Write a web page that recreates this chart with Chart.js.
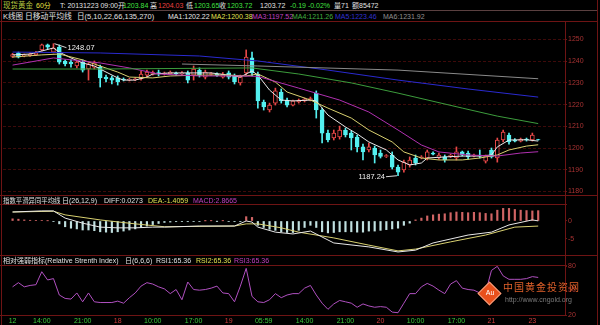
<!DOCTYPE html>
<html>
<head>
<meta charset="utf-8">
<script src="https://cdn.jsdelivr.net/npm/chart.js"></script>
<style>
  body { margin: 0; background: #000; }
  #wrap { position: relative; width: 600px; height: 325px; overflow: hidden; background: #000; }
  .t { position: absolute; white-space: nowrap; font: 7px/9px "Liberation Sans", "Noto Sans CJK SC", sans-serif; color: #e0e0e0; }
  .h { position: absolute; height: 1px; background: #6e1414; }
  .v { position: absolute; width: 1px; background: #6e1414; }
  canvas { position: absolute; left: 0; }
</style>
</head>
<body>
<div id="wrap">
  <canvas id="mainChart" width="600" height="174" style="top:22px"></canvas>
  <canvas id="macdChart" width="600" height="48" style="top:205px"></canvas>
  <canvas id="rsiChart" width="600" height="63" style="top:262px"></canvas>

  <div class="h" style="left:0;top:10px;width:598px;background:#5a4040"></div>
  <div class="h" style="left:0;top:21px;width:598px"></div>
  <div class="h" style="left:0;top:195px;width:598px"></div>
  <div class="h" style="left:0;top:204px;width:567px"></div>
  <div class="h" style="left:0;top:255px;width:598px"></div>
  <div class="h" style="left:0;top:265px;width:567px"></div>
  <div class="h" style="left:0;top:315px;width:567px"></div>
  <div class="v" style="left:1px;top:0;height:325px"></div>
  <div class="v" style="left:597px;top:0;height:325px"></div>
  <div class="v" style="left:565px;top:21px;height:295px"></div>

  <span class="t" style="left:3px;top:0.5px;color:#b8c840;font-size:7.5px">现货黄金</span>
  <span class="t" style="left:36px;top:0.5px;color:#e8e040">60分</span>
  <span class="t" style="left:60px;top:0.5px">T: 20131223 09:00开</span>
  <span class="t" style="left:123px;top:0.5px;color:#40e040">1203.84</span>
  <span class="t" style="left:150px;top:0.5px">高</span>
  <span class="t" style="left:158px;top:0.5px;color:#e84040">1204.03</span>
  <span class="t" style="left:186px;top:0.5px">低</span>
  <span class="t" style="left:194px;top:0.5px;color:#40e040">1203.65</span>
  <span class="t" style="left:219px;top:0.5px">收</span>
  <span class="t" style="left:227px;top:0.5px;color:#40e040">1203.72</span>
  <span class="t" style="left:260px;top:0.5px">1203.72</span>
  <span class="t" style="left:290px;top:0.5px;color:#40e040">-0.19 -0.02%</span>
  <span class="t" style="left:334px;top:0.5px">量71</span>
  <span class="t" style="left:352px;top:0.5px">额85472</span>

  <span class="t" style="left:3px;top:11.5px;font-size:7.5px">K线图</span>
  <span class="t" style="left:25px;top:11.5px;font-size:7.8px">日移动平均线</span>
  <span class="t" style="left:77px;top:11.5px;font-size:7.5px">日(5,10,22,66,135,270)</span>
  <span class="t" style="left:168px;top:11.5px;color:#e8e8e8">MA1:1202.22</span>
  <span class="t" style="left:211px;top:11.5px;color:#e0e050">MA2:1200.38</span>
  <span class="t" style="left:252px;top:11.5px;color:#c040c0">MA3:1197.52</span>
  <span class="t" style="left:292px;top:11.5px;color:#40b040">MA4:1211.26</span>
  <span class="t" style="left:335px;top:11.5px;color:#3030d0">MA5:1223.46</span>
  <span class="t" style="left:383px;top:11.5px;color:#909090">MA6:1231.92</span>

  <span class="t" style="left:3px;top:195.5px;font-size:6.4px">指数平滑异同平均线</span>
  <span class="t" style="left:62px;top:195.5px">日(26,12,9)</span>
  <span class="t" style="left:104px;top:195.5px">DIFF:0.0273</span>
  <span class="t" style="left:148px;top:195.5px;color:#e0e050">DEA:-1.4059</span>
  <span class="t" style="left:193px;top:195.5px;color:#c040c0">MACD:2.8665</span>

  <span class="t" style="left:3px;top:255.5px">相对强弱指标(Relative Strenth Index)</span>
  <span class="t" style="left:125px;top:255.5px">日(6,6,6)</span>
  <span class="t" style="left:156px;top:255.5px">RSI1:65.36</span>
  <span class="t" style="left:196px;top:255.5px;color:#e0e050">RSI2:65.36</span>
  <span class="t" style="left:234px;top:255.5px;color:#c040c0">RSI3:65.36</span>

  <div style="position:absolute;left:481px;top:285px;width:15px;height:15px;background:#e8501c;transform:rotate(45deg);border:1px solid #f0a080"></div>
  <span class="t" style="left:482px;top:288px;font-size:7px;color:#fff;width:16px;text-align:center">Au</span>
  <span class="t" style="left:503px;top:282px;font-size:10px;line-height:12px;color:#e0602a;letter-spacing:1px">中国黄金投资网</span>
  <span class="t" style="left:505px;top:295px;font-size:7px;color:#7a7a7a">http://www.cngold.org</span>
</div>

<script>
// 60 minute candles, index 0..90
const opens = [1242.2,1243.8,1242.4,1242.6,1242.9,1245.2,1247.6,1244.2,1246.5,1240.1,
  1239.6,1237.8,1239.6,1236.4,1237.3,1237.3,1232.7,1232.3,1232.3,1231.8,
  1231.3,1231.5,1231.8,1233.6,1234.1,1234.8,1234.1,1234.3,1234.5,1234.1,
  1234.6,1233.6,1235.9,1232.7,1233.9,1234.1,1232.7,1234.6,1233.2,1230.0,
  1234.6,1241.5,1234.1,1221.2,1217.5,1220.7,1225.8,1222.1,1219.8,1221.2,
  1221.7,1222.1,1225.3,1217.5,1206.9,1204.6,1205.1,1208.3,1206.9,1205.1,
  1200.5,1199.1,1200.0,1197.7,1196.1,1196.8,1191.2,1189.9,1192.2,1195.4,
  1195.6,1195.4,1197.7,1195.4,1195.9,1196.1,1195.4,1198.2,1197.7,1196.3,
  1196.8,1194.0,1199.1,1195.4,1203.7,1206.0,1203.7,1203.2,1204.1,1203.7,
  1203.84];
const highs = [1243.6,1244.2,1243.3,1243.8,1244.5,1247.9,1247.9,1248.07,1247.5,1240.6,
  1240.6,1240.6,1240.6,1239.2,1240.1,1238.2,1233.6,1233.2,1233.2,1232.3,
  1232.1,1232.4,1235.5,1235.9,1235.5,1235.9,1235.0,1235.5,1235.0,1235.2,
  1235.5,1237.8,1236.9,1235.9,1234.8,1234.6,1234.8,1235.5,1234.1,1233.6,
  1245.2,1244.2,1235.0,1222.1,1220.7,1227.6,1227.2,1223.0,1222.1,1222.6,
  1223.0,1223.5,1226.3,1218.4,1208.3,1208.3,1210.1,1209.2,1207.8,1206.0,
  1201.8,1202.3,1200.9,1199.1,1197.0,1198.2,1192.2,1194.5,1195.9,1196.8,
  1196.5,1199.1,1198.2,1197.7,1196.8,1197.2,1200.5,1198.6,1198.6,1197.2,
  1199.1,1196.8,1200.0,1204.6,1208.3,1206.9,1204.4,1204.6,1204.6,1206.9,
  1204.03];
const lows = [1241.7,1241.5,1242.0,1242.2,1242.5,1244.7,1245.6,1243.8,1238.7,1237.8,
  1237.3,1236.9,1235.0,1231.3,1236.4,1228.1,1230.4,1229.5,1229.0,1230.9,
  1230.9,1231.0,1231.3,1232.7,1233.6,1233.2,1233.6,1233.9,1233.6,1233.6,
  1230.0,1231.3,1232.7,1231.8,1233.4,1233.0,1232.2,1231.8,1229.5,1229.0,
  1233.6,1233.2,1218.4,1217.5,1216.6,1219.8,1220.7,1218.9,1219.4,1220.7,
  1221.2,1221.7,1213.8,1202.3,1202.8,1203.7,1204.1,1205.1,1199.1,1198.2,
  1194.5,1198.2,1193.1,1195.4,1195.6,1190.3,1187.24,1188.9,1191.2,1192.2,
  1195.0,1194.5,1196.8,1194.9,1193.5,1195.6,1194.5,1196.3,1194.9,1195.9,
  1195.4,1193.1,1195.4,1193.5,1202.8,1201.8,1202.8,1202.8,1203.2,1203.2,
  1203.65];
const closes = [1243.1,1241.9,1242.9,1243.3,1243.8,1247.6,1246.5,1246.1,1239.6,1238.7,
  1238.7,1239.6,1235.9,1238.7,1239.2,1232.3,1231.8,1231.3,1230.4,1231.4,
  1231.7,1231.9,1234.1,1235.0,1234.8,1234.1,1234.5,1235.0,1234.1,1234.5,
  1231.3,1236.4,1233.6,1235.0,1234.3,1233.5,1234.1,1232.7,1230.4,1232.7,
  1241.9,1234.6,1221.7,1218.9,1219.8,1226.3,1221.7,1219.8,1221.7,1222.1,
  1222.6,1222.8,1217.5,1206.9,1203.7,1206.9,1208.3,1206.0,1204.6,1200.5,
  1198.2,1200.5,1196.8,1196.1,1196.5,1191.2,1188.9,1193.5,1194.5,1193.1,
  1196.0,1198.2,1197.2,1196.8,1194.5,1196.6,1198.2,1196.8,1195.9,1196.7,
  1196.3,1196.3,1195.9,1203.7,1207.4,1202.8,1203.2,1204.1,1203.7,1206.0,
  1203.72];

// moving averages as [candle index, value]
const ma1 = [[0,1242.9],[3,1243.3],[5,1244.7],[7,1246.1],[8,1244.2],[10,1241.5],[12,1239.2],[14,1237.8],
  [16,1235.0],[18,1232.3],[19,1231.3],[21,1231.3],[23,1232.7],[24,1234.1],[27,1234.6],[30,1234.6],
  [34,1234.6],[37,1233.6],[39,1232.7],[41,1235.5],[42,1233.6],[44,1226.7],[46,1222.1],[48,1221.7],
  [51,1222.1],[52,1221.7],[54,1215.2],[57,1209.7],[59,1206.5],[61,1202.8],[64,1199.1],[66,1194.5],
  [68,1192.2],[70,1193.1],[71,1195.4],[74,1195.9],[77,1196.3],[80,1196.3],[82,1196.8],[83,1200.5],
  [85,1203.7],[88,1203.8],[90,1203.2]];
const ma2 = [[0,1241.9],[5,1242.9],[8,1243.3],[12,1240.6],[14,1238.7],[18,1235.0],[20,1232.7],[24,1232.3],
  [27,1233.2],[32,1233.6],[37,1233.6],[40,1233.2],[42,1234.1],[45,1230.4],[47,1225.8],[51,1222.1],
  [54,1218.4],[58,1213.8],[61,1208.3],[65,1202.8],[67,1198.2],[70,1195.4],[73,1194.5],[77,1194.5],
  [80,1195.4],[83,1196.8],[85,1199.1],[88,1200.9],[90,1201.5]];
const ma3 = [[0,1238.2],[7,1241.5],[15,1239.2],[20,1236.9],[25,1234.1],[32,1233.2],[39,1233.2],[42,1233.0],
  [49,1227.6],[56,1222.1],[61,1216.6],[66,1208.3],[70,1201.4],[73,1198.2],[78,1196.8],[83,1196.3],
  [87,1197.7],[90,1198.3]];
const ma4 = [[0,1236.4],[15,1236.4],[41,1236.9],[49,1234.1],[58,1230.0],[66,1225.3],[77,1218.4],[83,1214.7],[90,1211.26]];
const ma5 = [[0,1244.2],[15,1243.8],[32,1242.4],[42,1240.1],[54,1235.9],[66,1231.3],[78,1227.2],[90,1223.46]];
const ma6 = [[29,1238.7],[42,1237.8],[66,1235.9],[90,1231.92]];

// MACD
const macdHist = [0.6,0.5,0.3,0.2,0.1,0.1,0.05,-0.1,-0.8,-1.6,
  -2.0,-2.2,-2.5,-2.5,-2.7,-3.0,-3.1,-3.2,-3.0,-2.8,
  -2.5,-2.2,-1.8,-1.4,-1.0,-0.7,-0.4,-0.3,-0.2,-0.1,
  -0.2,-0.1,-0.1,0.02,0.05,-0.05,0.05,-0.1,-0.2,-0.2,
  1.2,1.0,-1.2,-1.8,-2.3,-2.6,-3.0,-3.2,-3.2,-2.6,
  -1.8,-1.2,-1.8,-3.0,-3.3,-3.2,-3.0,-3.0,-3.0,-3.1,
  -3.1,-2.8,-2.8,-2.6,-2.4,-2.2,-2.0,-1.2,-0.6,0.3,
  0.8,1.4,1.7,1.9,2.0,2.3,2.5,2.4,2.3,2.4,
  2.3,2.1,2.0,3.0,3.5,3.5,3.2,3.0,2.9,2.8,
  2.87];
const diff = [[0,2.5],[5,2.8],[7,2.8],[9,0.8],[12,-0.6],[15,-1.7],[18,-1.9],[21,-1.9],[24,-1.7],[26,-1.7],
  [32,-1.4],[38,-1.4],[40,0.0],[41,-0.3],[42,-1.7],[45,-3.1],[48,-3.6],[51,-2.8],[55,-6.1],[61,-7.2],
  [66,-8.6],[69,-8.1],[72,-6.1],[78,-3.9],[82,-3.1],[85,-1.1],[89,0.3],[90,0.03]];
const dea = [[0,2.5],[7,2.7],[9,1.7],[15,0.3],[21,-0.8],[26,-1.6],[38,-1.4],[40,-0.8],[42,-0.8],[46,-1.9],
  [49,-3.1],[55,-4.7],[61,-6.7],[66,-8.3],[69,-7.8],[75,-5.8],[81,-3.9],[86,-1.7],[90,-1.41]];

// RSI(6)
const rsi = [54.5,59.6,54.5,56.2,57.1,73.0,62.9,64.6,44.5,40.3,
  39.5,47.0,36.2,47.0,36.2,35.3,35.3,35.3,37.0,34.5,
  41.2,47.0,55.4,59.6,57.9,54.5,52.0,46.2,51.2,38.7,
  60.4,51.2,50.4,51.2,52.9,55.4,47.0,46.2,36.2,55.4,
  77.1,42.8,36.2,35.3,38.7,46.2,41.2,44.5,46.2,46.2,
  52.9,56.2,44.5,34.5,27.0,33.6,37.8,36.2,34.5,29.5,
  33.6,31.1,29.5,30.3,29.5,23.6,22.8,34.5,46.2,46.2,
  54.5,58.7,55.4,50.4,46.2,57.9,62.1,52.9,51.2,50.4,
  47.0,47.9,74.6,79.6,67.9,63.7,63.7,63.7,64.6,67.0,
  66.0];

// bottom time axis
const timeTicks = [0, 5, 12, 18, 24, 31, 37, 43, 50, 57, 63, 69, 76, 82, 89];
const timeLabels = ['12', '14:00', '21:00', '18', '10:00', '17:00', '19', '05:59', '14:00', '21:00', '20', '10:00', '17:00', '21', '23'];

const mainTicks = [1180, 1190, 1200, 1210, 1220, 1230, 1240, 1250];
const macdTicks = [0, -5];
const rsiTicks = [80, 50, 20];

Chart.defaults.font.family = '"Liberation Sans", "Noto Sans CJK SC", sans-serif';
Chart.defaults.animation = false;

const RED = '#e84848';
const CYAN = '#54f0f0';
const FRAME = '#6e1414';

function xAxis() {
    return { type: 'linear', min: -1.64, max: 94.59, offset: false, display: false };
}

function rightAxis(min, max, ticks, gridOn) {
    return {
        position: 'right',
        min: min,
        max: max,
        afterFit: function (s) { s.width = 35; s.paddingTop = 0; s.paddingBottom = 0; },
        afterBuildTicks: function (s) { s.ticks = ticks.map(function (v) { return { value: v }; }); },
        grid: { color: '#3e0a0a', drawOnChartArea: gridOn, drawTicks: true, tickLength: 2, tickColor: FRAME },
        border: { display: false, dash: [3, 2] },
        ticks: { color: '#a83232', font: { size: 7 }, padding: 1, callback: function (v) { return String(v); } }
    };
}

function pairs(arr) {
    return arr.map(function (p) { return { x: p[0], y: p[1] }; });
}

function maLine(arr, color) {
    return { type: 'line', data: pairs(arr), borderColor: color, borderWidth: 1, pointRadius: 0, tension: 0, order: 0 };
}

const isUp = opens.map(function (o, i) { return closes[i] >= o; });

const extremeLabels = {
    id: 'extremeLabels',
    afterDatasetsDraw: function (chart) {
        const ctx = chart.ctx, x = chart.scales.x, y = chart.scales.y;
        const hi = highs.indexOf(Math.max.apply(null, highs));
        const lo = lows.indexOf(Math.min.apply(null, lows));
        ctx.save();
        ctx.strokeStyle = '#d8d8d8';
        ctx.fillStyle = '#f0f0f0';
        ctx.lineWidth = 1;
        ctx.font = '7.5px "Liberation Sans"';
        ctx.textBaseline = 'middle';
        let px = x.getPixelForValue(hi), py = y.getPixelForValue(highs[hi]);
        ctx.beginPath(); ctx.moveTo(px + 1, py); ctx.lineTo(px + 13, py + 4); ctx.stroke();
        ctx.textAlign = 'left';
        ctx.fillText(highs[hi].toFixed(2), px + 14, py + 4);
        px = x.getPixelForValue(lo); py = y.getPixelForValue(lows[lo]);
        ctx.beginPath(); ctx.moveTo(px - 1, py); ctx.lineTo(px - 12, py + 1); ctx.stroke();
        ctx.textAlign = 'right';
        ctx.fillText(lows[lo].toFixed(2), px - 13, py + 1);
        ctx.restore();
    }
};

const common = {
    responsive: false,
    events: [],
    layout: { padding: { left: 3, right: 0, top: 0, bottom: 0 }, autoPadding: false },
    plugins: { legend: { display: false }, tooltip: { enabled: false } }
};

new Chart(document.getElementById('mainChart').getContext('2d'), {
    type: 'bar',
    data: {
        datasets: [
            {
                data: lows.map(function (l, i) { return { x: i, y: [l, highs[i]] }; }),
                backgroundColor: isUp.map(function (u) { return u ? RED : CYAN; }),
                barThickness: 1,
                grouped: false,
                order: 2
            },
            {
                data: opens.map(function (o, i) { return { x: i, y: [o, closes[i]] }; }),
                backgroundColor: isUp.map(function (u) { return u ? '#000' : CYAN; }),
                borderColor: isUp.map(function (u) { return u ? RED : CYAN; }),
                borderWidth: 1,
                borderSkipped: false,
                barThickness: 4,
                grouped: false,
                order: 1
            },
            maLine(ma6, '#8a8a8a'),
            maLine(ma5, '#2a2ad0'),
            maLine(ma4, '#3c9c3c'),
            maLine(ma3, '#b030b0'),
            maLine(ma2, '#d8d070'),
            maLine(ma1, '#e8e8e8')
        ]
    },
    options: Object.assign({}, common, {
        scales: { x: xAxis(), y: rightAxis(1177.9, 1258.06, mainTicks, true) }
    }),
    plugins: [extremeLabels]
});

new Chart(document.getElementById('macdChart').getContext('2d'), {
    type: 'bar',
    data: {
        datasets: [
            {
                data: macdHist.map(function (v, i) { return { x: i, y: v }; }),
                backgroundColor: macdHist.map(function (v) { return v >= 0 ? '#d06464' : '#c0e0e0'; }),
                barThickness: 1.5,
                grouped: false,
                order: 2
            },
            { type: 'line', data: pairs(diff), borderColor: '#e8e8e8', borderWidth: 1, pointRadius: 0, tension: 0, order: 0 },
            { type: 'line', data: pairs(dea), borderColor: '#d8d070', borderWidth: 1, pointRadius: 0, tension: 0, order: 0 }
        ]
    },
    options: Object.assign({}, common, {
        scales: { x: xAxis(), y: rightAxis(-8.89, 4.44, macdTicks, false) }
    })
});

const rsiX = xAxis();
rsiX.display = true;
rsiX.position = 'bottom';
rsiX.afterFit = function (s) { s.height = 9; };
rsiX.afterBuildTicks = function (s) { s.ticks = timeTicks.map(function (v) { return { value: v }; }); };
rsiX.grid = { display: false, drawTicks: false };
rsiX.border = { display: false };
rsiX.ticks = {
    autoSkip: false,
    maxRotation: 0,
    padding: 1,
    font: { size: 7 },
    color: function (c) {
        const l = timeLabels[c.index] || '';
        return (l.indexOf(':') >= 0 || c.index === 0) ? '#3cc83c' : '#d03c3c';
    },
    callback: function (v, i) { return timeLabels[i]; }
};

new Chart(document.getElementById('rsiChart').getContext('2d'), {
    type: 'line',
    data: {
        datasets: [
            { data: rsi.map(function (v, i) { return { x: i, y: v }; }), borderColor: '#b050c0', borderWidth: 1, pointRadius: 0, tension: 0 }
        ]
    },
    options: Object.assign({}, common, {
        scales: { x: rsiX, y: rightAxis(18.8, 84.9, rsiTicks, false) }
    })
});
</script>
</body>
</html>
